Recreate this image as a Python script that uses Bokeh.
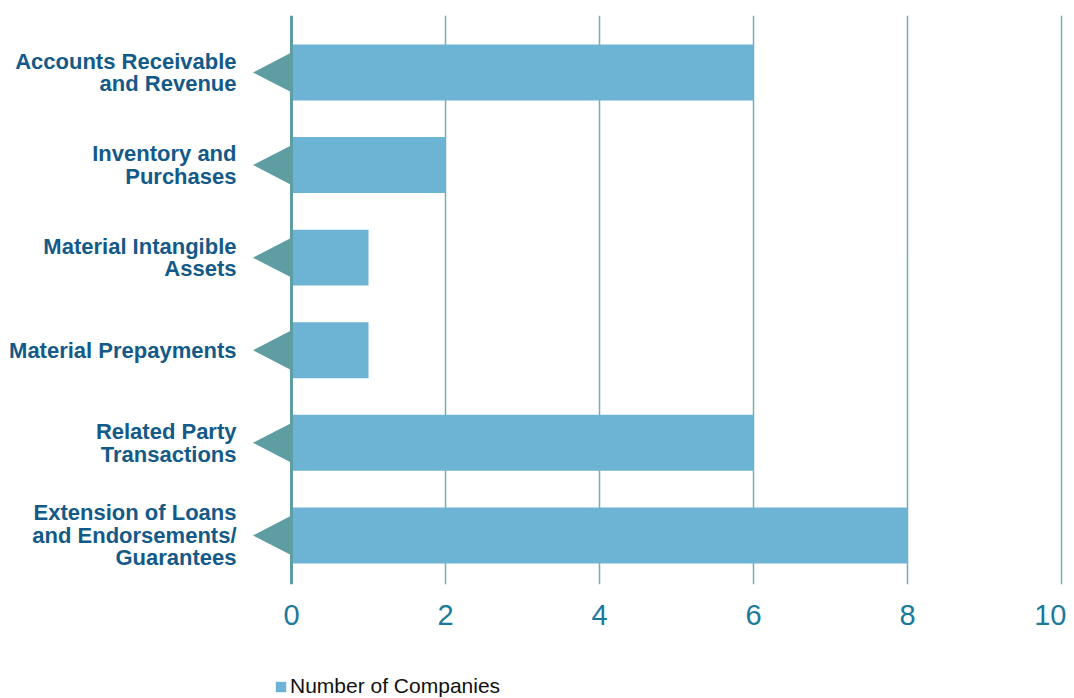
from bokeh.plotting import figure
from bokeh.layouts import column
from bokeh.models import Range1d, FixedTicker, Span, Legend, LegendItem, ColumnDataSource
from bokeh.embed import file_html
from bokeh.resources import INLINE

categories = [
    "Accounts Receivable\nand Revenue",
    "Inventory and\nPurchases",
    "Material Intangible\nAssets",
    "Material Prepayments",
    "Related Party\nTransactions",
    "Extension of Loans\nand Endorsements/\nGuarantees",
]
values = [6, 2, 1, 1, 6, 8]
x_ticks = [0, 2, 4, 6, 8, 10]
series_name = "Number of Companies"

BAR = "#6db3d4"
ARROW = "#5e9ea2"
LABEL = "#135a88"
TICK = "#1b7a9c"
FONT = "Liberation Sans"

pos = list(range(len(categories)))

p = figure(frame_width=812, frame_height=569, output_backend="svg", toolbar_location=None,
           x_range=Range1d(-0.5065, 10.039), y_range=Range1d(5.53, -0.615),
           min_border_left=252, min_border_right=2, min_border_top=15, min_border_bottom=70)
p.outline_line_color = None
p.background_fill_color = "white"
p.border_fill_color = "white"

src = ColumnDataSource(dict(y=pos, v=values))
bars = p.hbar(y="y", left=0, right="v", height=0.604, source=src, fill_color=BAR, line_color=None)

tip = 0.5
xs = [[0, -tip, 0] for _ in pos]
ys = [[i - 0.215, i, i + 0.215] for i in pos]
p.patches(xs, ys, fill_color=ARROW, line_color=None)

p.add_layout(Span(location=0, dimension="height", line_color=ARROW, line_width=3))

# x axis
xa = p.xaxis[0]
xa.ticker = FixedTicker(ticks=x_ticks)
xa.axis_line_color = None
xa.major_tick_line_color = None
xa.minor_tick_line_color = None
xa.major_tick_out = 0
xa.major_label_standoff = 20
xa.major_label_text_font = FONT
xa.major_label_text_font_size = "29px"
xa.major_label_text_color = TICK

# y axis
ya = p.yaxis[0]
ya.ticker = FixedTicker(ticks=pos)
ya.major_label_overrides = {i: c for i, c in zip(pos, categories)}
ya.axis_line_color = None
ya.major_tick_line_color = None
ya.minor_tick_line_color = None
ya.major_tick_out = 0
ya.major_label_standoff = 16
ya.major_label_text_font = FONT
ya.major_label_text_font_style = "bold"
ya.major_label_text_font_size = "22px"
ya.major_label_text_color = LABEL
ya.major_label_text_line_height = 0.9

p.xgrid.ticker = FixedTicker(ticks=x_ticks[1:])
p.xgrid.grid_line_color = "#74aeb3"
p.xgrid.grid_line_width = 1.5
p.ygrid.grid_line_color = None

# legend strip below the chart (its frame lines up with the chart's frame)
p2 = figure(width=1066, height=44, output_backend="svg", toolbar_location=None,
            x_range=Range1d(100, 101), y_range=Range1d(100, 101),
            min_border_left=0, min_border_right=0, min_border_top=0, min_border_bottom=0)
p2.axis.visible = False
p2.grid.visible = False
p2.outline_line_color = None
p2.background_fill_color = "white"
p2.border_fill_color = "white"
key = p2.hbar(y="y", left=0, right="v", height=0.604, source=src, fill_color=BAR, line_color=None)

legend = Legend(items=[LegendItem(label=series_name, renderers=[key])],
                location=(22, 0), orientation="horizontal",
                glyph_width=13, glyph_height=13, label_standoff=3, label_height=13,
                padding=0, margin=0, border_line_color=None, background_fill_alpha=0,
                label_text_font=FONT, label_text_font_size="21px", label_text_color="#111111")
p2.add_layout(legend, "center")

layout = column(p, p2, spacing=0)
open("out.html", "w").write(file_html(layout, INLINE))
